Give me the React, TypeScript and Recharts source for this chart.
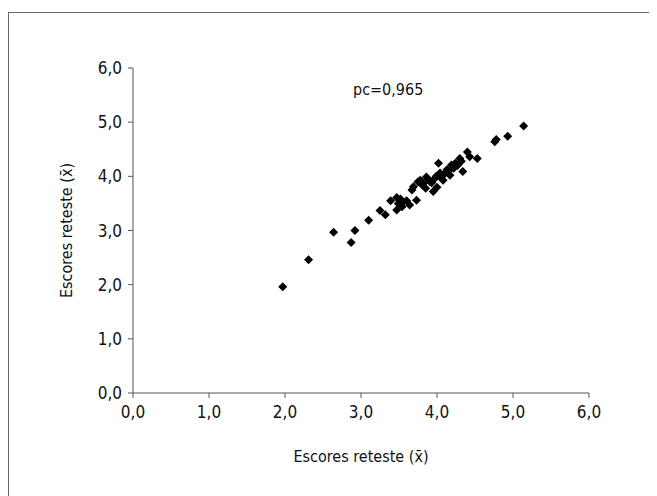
import React from "react";
import {
  ScatterChart,
  Scatter,
  XAxis,
  YAxis,
  Label,
} from "recharts";

const scoreX = [
  1.97, 2.31, 2.64, 2.87, 2.92, 3.1, 3.25, 3.32, 3.39, 3.47, 3.49, 3.47, 3.54,
  3.64, 3.73, 3.67, 3.69, 3.78, 3.82, 3.86, 3.91, 3.95, 3.97, 4.02, 4.04, 4.08,
  4.13, 4.17, 4.19, 4.24, 4.3, 4.34, 4.4, 4.43, 4.53, 4.76, 4.78, 4.93, 5.14,
  3.52, 3.55, 3.8, 3.88, 3.93, 3.99, 4.05, 4.1, 4.22, 4.27, 3.6, 3.75, 4.0,
  3.85, 4.15, 4.32,
];
const scoreY = [
  1.96, 2.46, 2.97, 2.78, 3.0, 3.19, 3.37, 3.29, 3.55, 3.61, 3.5, 3.38, 3.44,
  3.47, 3.56, 3.75, 3.81, 3.93, 3.87, 3.99, 3.9, 3.72, 3.96, 4.24, 4.06, 3.93,
  4.12, 4.02, 4.21, 4.24, 4.33, 4.09, 4.45, 4.36, 4.33, 4.64, 4.68, 4.74, 4.93,
  3.58, 3.52, 3.85, 3.95, 3.88, 4.0, 3.98, 4.05, 4.15, 4.2, 3.55, 3.9, 3.8,
  3.78, 4.1, 4.28,
];
const axisTicks = [0, 1, 2, 3, 4, 5, 6];
const axisLabel = "Escores reteste (x\u0304)";
const corrLabel = "pc=0,965";

const data = scoreX.map((x, i) => ({ x, y: scoreY[i] }));

const font = "'Liberation Sans Narrow', 'DejaVu Sans Condensed', sans-serif";
const fmt = (v: number) => v.toFixed(1).replace(".", ",");

const Diamond = (props: any) => {
  const { cx, cy } = props;
  const r = 4.5;
  return (
    <polygon
      points={`${cx},${cy - r} ${cx + r},${cy} ${cx},${cy + r} ${cx - r},${cy}`}
      fill="#000"
    />
  );
};

export default function App() {
  const tick = { fill: "#111", fontSize: 17, fontFamily: font };
  return (
    <div
      style={{
        position: "relative",
        width: 660,
        height: 500,
        marginTop: 4,
        border: "1px solid #666",
        background: "#fff",
      }}
    >
      <ScatterChart
        width={660}
        height={500}
        margin={{ top: 55, right: 80, left: 64, bottom: 40 }}
      >
        <XAxis
          type="number"
          dataKey="x"
          domain={[0, 6]}
          ticks={axisTicks}
          tickFormatter={fmt}
          stroke="#555"
          tickSize={5}
          tickMargin={8}
          tick={tick}
          height={80}
        >
          <Label
            value={axisLabel}
            position="insideBottom"
            offset={11}
            style={{ fill: "#111", fontSize: 16, fontFamily: font }}
          />
        </XAxis>
        <YAxis
          type="number"
          dataKey="y"
          domain={[0, 6]}
          ticks={axisTicks}
          tickFormatter={fmt}
          stroke="#555"
          tickSize={5}
          tickMargin={6}
          tick={tick}
          width={60}
        >
          <Label
            value={axisLabel}
            angle={-90}
            position="insideLeft"
            offset={-7}
            style={{ fill: "#111", fontSize: 16, fontFamily: font, textAnchor: "middle" }}
          />
        </YAxis>
        <Scatter data={data} shape={Diamond} isAnimationActive={false} />
      </ScatterChart>
      <div
        style={{
          position: "absolute",
          left: 344,
          top: 67,
          fontFamily: font,
          fontSize: 16,
          color: "#111",
        }}
      >
        {corrLabel}
      </div>
    </div>
  );
}
